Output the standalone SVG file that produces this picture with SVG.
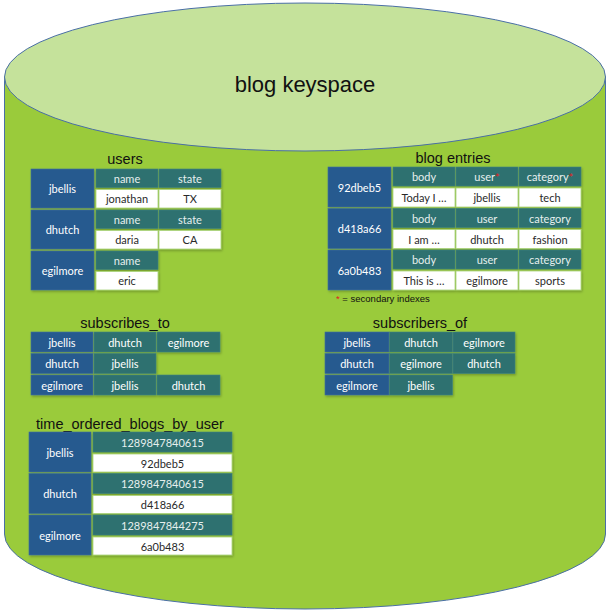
<svg xmlns="http://www.w3.org/2000/svg" width="609" height="616" viewBox="0 0 609 616">
<defs>
<style>
.key{fill:#275a8f;stroke:#3d6f9f;stroke-width:0.6}
.hdr{fill:#2e716f;stroke:#3f8280;stroke-width:0.6}
.val{fill:#ffffff;stroke:#a9d27a;stroke-width:0.8}
.kt{font-family:Lato,"Liberation Sans",sans-serif;font-size:11px;fill:#ffffff;text-anchor:middle;dominant-baseline:central}
.ht{font-family:Lato,"Liberation Sans",sans-serif;font-size:11px;fill:#e6efee;text-anchor:middle;dominant-baseline:central}
.vt{font-family:Lato,"Liberation Sans",sans-serif;font-size:11px;fill:#2a2a2a;text-anchor:middle;dominant-baseline:central}
.title{font-family:"Liberation Sans",Arial,sans-serif;font-size:14.5px;fill:#111111;text-anchor:middle}
.star{fill:#e02020}
</style>
<filter id="sh" x="-5%" y="-5%" width="115%" height="125%">
<feDropShadow dx="1" dy="1.5" stdDeviation="1" flood-color="#000" flood-opacity="0.25"/>
</filter>
</defs>

<g id="keyspace">
<path d="M4.5,77 L4.5,534 A300.5,75 0 0 0 605.5,534 L605.5,77 Z" fill="#9acb3b" stroke="#4a6fa5" stroke-width="1"/>
<ellipse cx="305" cy="77" rx="300.5" ry="74" fill="#c5e29b" stroke="#4a6fa5" stroke-width="1"/>
<text x="305" y="92" font-family="'Liberation Sans',Arial,sans-serif" font-size="22" fill="#111111" text-anchor="middle">blog keyspace</text>
</g>

<g id="connectors"></g>

<g id="users">
<text class="title" x="125" y="164">users</text>
<g filter="url(#sh)">
<rect class="key" x="31" y="169" width="63" height="39"/>
<rect class="hdr" x="96" y="169" width="62" height="18.5"/>
<rect class="hdr" x="159" y="169" width="62" height="18.5"/>
<rect class="val" x="96" y="189.5" width="62" height="18.5"/>
<rect class="val" x="159" y="189.5" width="62" height="18.5"/>
<rect class="key" x="31" y="210" width="63" height="39"/>
<rect class="hdr" x="96" y="210" width="62" height="18.5"/>
<rect class="hdr" x="159" y="210" width="62" height="18.5"/>
<rect class="val" x="96" y="230.5" width="62" height="18.5"/>
<rect class="val" x="159" y="230.5" width="62" height="18.5"/>
<rect class="key" x="31" y="251" width="63" height="39"/>
<rect class="hdr" x="96" y="251" width="62" height="18.5"/>
<rect class="val" x="96" y="271.5" width="62" height="18.5"/>
</g>
<text class="kt" x="62.5" y="188.5">jbellis</text>
<text class="ht" x="127" y="178.3">name</text>
<text class="ht" x="190" y="178.3">state</text>
<text class="vt" x="127" y="198.8">jonathan</text>
<text class="vt" x="190" y="198.8">TX</text>
<text class="kt" x="62.5" y="229.5">dhutch</text>
<text class="ht" x="127" y="219.3">name</text>
<text class="ht" x="190" y="219.3">state</text>
<text class="vt" x="127" y="239.8">daria</text>
<text class="vt" x="190" y="239.8">CA</text>
<text class="kt" x="62.5" y="270.5">egilmore</text>
<text class="ht" x="127" y="260.3">name</text>
<text class="vt" x="127" y="280.8">eric</text>
</g>

<g id="blog_entries">
<text class="title" x="453" y="163">blog entries</text>
<g filter="url(#sh)">
<rect class="key" x="328" y="167" width="63" height="40"/>
<rect class="hdr" x="393" y="167" width="62" height="19"/>
<rect class="hdr" x="456" y="167" width="62" height="19"/>
<rect class="hdr" x="519" y="167" width="62" height="19"/>
<rect class="val" x="393" y="188" width="62" height="19"/>
<rect class="val" x="456" y="188" width="62" height="19"/>
<rect class="val" x="519" y="188" width="62" height="19"/>
<rect class="key" x="328" y="208.5" width="63" height="40"/>
<rect class="hdr" x="393" y="208.5" width="62" height="19"/>
<rect class="hdr" x="456" y="208.5" width="62" height="19"/>
<rect class="hdr" x="519" y="208.5" width="62" height="19"/>
<rect class="val" x="393" y="229.5" width="62" height="19"/>
<rect class="val" x="456" y="229.5" width="62" height="19"/>
<rect class="val" x="519" y="229.5" width="62" height="19"/>
<rect class="key" x="328" y="250" width="63" height="40"/>
<rect class="hdr" x="393" y="250" width="62" height="19"/>
<rect class="hdr" x="456" y="250" width="62" height="19"/>
<rect class="hdr" x="519" y="250" width="62" height="19"/>
<rect class="val" x="393" y="271" width="62" height="19"/>
<rect class="val" x="456" y="271" width="62" height="19"/>
<rect class="val" x="519" y="271" width="62" height="19"/>
</g>
<text class="kt" x="359.5" y="187">92dbeb5</text>
<text class="ht" x="424" y="176.5">body</text>
<text class="ht" x="487" y="176.5">user<tspan class="star">*</tspan></text>
<text class="ht" x="550" y="176.5">category<tspan class="star">*</tspan></text>
<text class="vt" x="424" y="197.5">Today I …</text>
<text class="vt" x="487" y="197.5">jbellis</text>
<text class="vt" x="550" y="197.5">tech</text>
<text class="kt" x="359.5" y="228.5">d418a66</text>
<text class="ht" x="424" y="218">body</text>
<text class="ht" x="487" y="218">user</text>
<text class="ht" x="550" y="218">category</text>
<text class="vt" x="424" y="239">I am …</text>
<text class="vt" x="487" y="239">dhutch</text>
<text class="vt" x="550" y="239">fashion</text>
<text class="kt" x="359.5" y="270">6a0b483</text>
<text class="ht" x="424" y="259.5">body</text>
<text class="ht" x="487" y="259.5">user</text>
<text class="ht" x="550" y="259.5">category</text>
<text class="vt" x="424" y="280.5">This is …</text>
<text class="vt" x="487" y="280.5">egilmore</text>
<text class="vt" x="550" y="280.5">sports</text>
<text x="336" y="302" font-family="'Liberation Sans',Arial,sans-serif" font-size="9.5" fill="#111111"><tspan class="star">*</tspan> = secondary indexes</text>
</g>

<g id="subscribes_to">
<text class="title" x="125" y="328">subscribes_to</text>
<g filter="url(#sh)">
<rect class="key" x="31" y="332" width="62" height="20"/>
<rect class="hdr" x="94" y="332" width="62" height="20"/>
<rect class="hdr" x="157" y="332" width="63" height="20"/>
<rect class="key" x="31" y="353.5" width="62" height="20"/>
<rect class="hdr" x="94" y="353.5" width="62" height="20"/>
<rect class="key" x="31" y="375" width="62" height="20"/>
<rect class="hdr" x="94" y="375" width="62" height="20"/>
<rect class="hdr" x="157" y="375" width="63" height="20"/>
</g>
<text class="kt" x="62" y="342">jbellis</text>
<text class="kt" x="125" y="342">dhutch</text>
<text class="kt" x="188.5" y="342">egilmore</text>
<text class="kt" x="62" y="363.5">dhutch</text>
<text class="kt" x="125" y="363.5">jbellis</text>
<text class="kt" x="62" y="385">egilmore</text>
<text class="kt" x="125" y="385">jbellis</text>
<text class="kt" x="188.5" y="385">dhutch</text>
</g>

<g id="subscribers_of">
<text class="title" x="420" y="328">subscribers_of</text>
<g filter="url(#sh)">
<rect class="key" x="325" y="332" width="64" height="20"/>
<rect class="hdr" x="389.5" y="332" width="63" height="20"/>
<rect class="hdr" x="453" y="332" width="62" height="20"/>
<rect class="key" x="325" y="353.5" width="64" height="20"/>
<rect class="hdr" x="389.5" y="353.5" width="63" height="20"/>
<rect class="hdr" x="453" y="353.5" width="62" height="20"/>
<rect class="key" x="325" y="375" width="64" height="20"/>
<rect class="hdr" x="389.5" y="375" width="63" height="20"/>
</g>
<text class="kt" x="357" y="342">jbellis</text>
<text class="kt" x="421" y="342">dhutch</text>
<text class="kt" x="484" y="342">egilmore</text>
<text class="kt" x="357" y="363.5">dhutch</text>
<text class="kt" x="421" y="363.5">egilmore</text>
<text class="kt" x="484" y="363.5">dhutch</text>
<text class="kt" x="357" y="385">egilmore</text>
<text class="kt" x="421" y="385">jbellis</text>
</g>

<g id="time_ordered_blogs_by_user">
<text class="title" x="130" y="429">time_ordered_blogs_by_user</text>
<g filter="url(#sh)">
<rect class="key" x="29" y="432" width="62" height="40"/>
<rect class="hdr" x="93" y="432" width="139" height="20"/>
<rect class="val" x="93" y="454" width="139" height="18"/>
<rect class="key" x="29" y="473.5" width="62" height="40"/>
<rect class="hdr" x="93" y="473.5" width="139" height="20"/>
<rect class="val" x="93" y="495.5" width="139" height="18"/>
<rect class="key" x="29" y="515" width="62" height="40"/>
<rect class="hdr" x="93" y="515" width="139" height="20"/>
<rect class="val" x="93" y="537" width="139" height="18"/>
</g>
<text class="kt" x="60" y="452">jbellis</text>
<text class="ht" x="162.5" y="442">1289847840615</text>
<text class="vt" x="162.5" y="463">92dbeb5</text>
<text class="kt" x="60" y="493.5">dhutch</text>
<text class="ht" x="162.5" y="483.5">1289847840615</text>
<text class="vt" x="162.5" y="504.5">d418a66</text>
<text class="kt" x="60" y="535">egilmore</text>
<text class="ht" x="162.5" y="525">1289847844275</text>
<text class="vt" x="162.5" y="546">6a0b483</text>
</g>
</svg>
